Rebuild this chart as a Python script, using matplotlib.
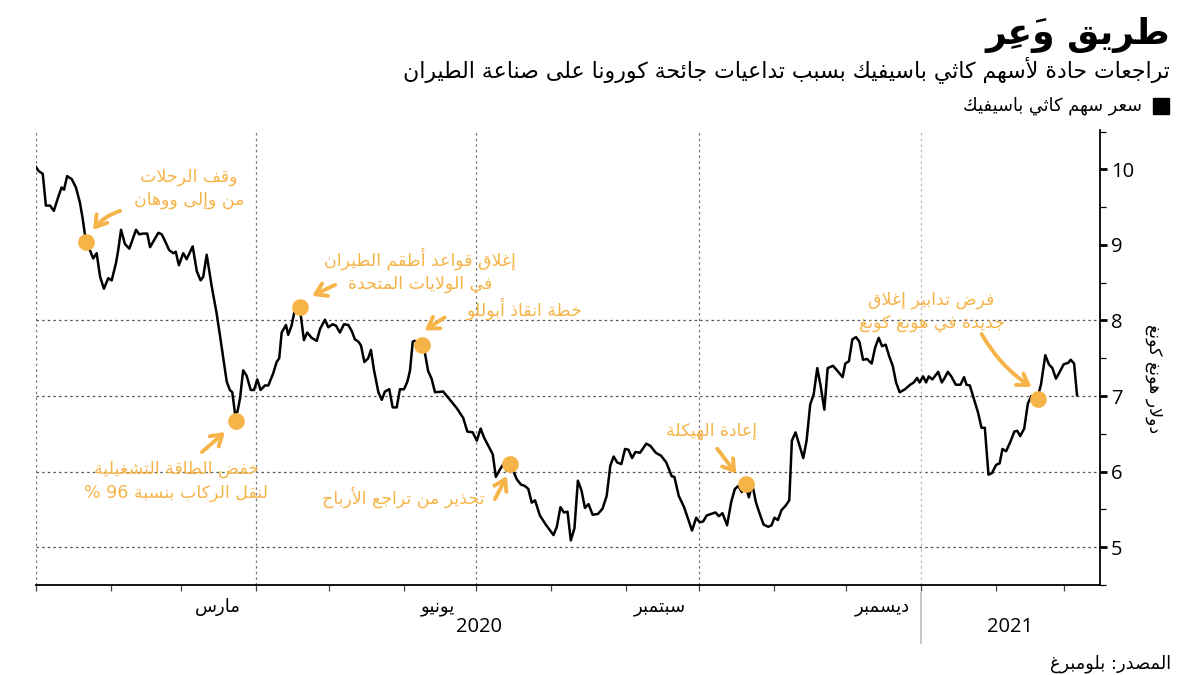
import numpy as np
import matplotlib
matplotlib.use("Agg")
import matplotlib.pyplot as plt
import matplotlib.dates as mdates
from matplotlib.transforms import blended_transform_factory
from matplotlib.lines import Line2D

# ---- data (Cathay Pacific share price, HKD) ----
START = np.datetime64("2020-01-01")
day_offsets = [
    0.0, 1.0, 2.8, 4.1, 5.8, 7.4, 9.2, 10.6, 11.6, 12.9, 14.8, 16.5, 18.2, 19.3, 20.3, 20.7,
    22.3, 23.7, 25.1, 26.5, 28.1, 29.9, 31.3, 33.1, 34.0, 35.2, 36.8, 38.6, 41.4, 42.7, 44.4,
    46.0, 47.2, 48.8, 50.6, 52.0, 53.4, 55.1, 56.8, 57.8, 59.1, 60.9, 62.3, 64.8, 66.5, 68.1,
    69.2, 70.6, 72.7, 74.7, 76.1, 77.5, 78.9, 80.2, 81.2, 82.3, 83.3, 84.4, 85.7, 87.1, 88.8,
    90.2, 91.5, 92.9, 94.7, 96.1, 98.1, 99.5, 100.6, 101.6, 103.4, 104.3, 105.7, 107.1, 107.8,
    109.2, 110.8, 112.2, 114.0, 116.1, 117.5, 119.5, 120.9, 122.7, 124.1, 125.7, 127.4, 129.2,
    130.6, 131.9, 133.3, 134.4, 135.8, 137.4, 138.5, 139.8, 141.6, 143.0, 144.3, 146.1, 147.5,
    149.2, 150.5, 152.2, 153.6, 154.7, 155.8, 156.7, 159.5, 160.9, 162.2, 163.6, 165.0, 168.4,
    171.2, 174.0, 176.7, 178.4, 180.6, 182.3, 183.9, 185.3, 187.1, 188.9, 190.2, 191.9, 193.3,
    194.7, 196.0, 197.4, 198.8, 200.5, 202.2, 203.6, 205.0, 206.4, 208.4, 210.6, 214.0, 215.4,
    216.9, 218.3, 219.8, 221.2, 222.7, 224.1, 225.6, 227.0, 228.5, 230.2, 232.4, 234.3, 236.0,
    237.5, 238.9, 240.4, 242.1, 243.6, 245.0, 246.5, 247.9, 249.8, 252.4, 254.1, 256.3, 258.5,
    260.7, 262.9, 264.0, 265.8, 268.0, 269.4, 271.3, 273.0, 274.5, 275.9, 277.4, 279.2, 281.0,
    282.4, 283.9, 285.8, 287.5, 289.0, 290.4, 291.9, 293.3, 294.8, 296.2, 297.7, 299.1, 300.9,
    302.8, 304.2, 305.4, 306.8, 308.3, 310.0, 311.5, 312.6, 314.1, 315.8, 317.3, 318.7, 320.2,
    321.6, 323.1, 324.5, 326.0, 327.4, 329.6, 331.5, 333.6, 334.7, 336.2, 337.6, 339.1, 340.5,
    342.0, 343.7, 345.6, 347.0, 348.5, 349.9, 351.4, 352.8, 354.3, 355.7, 357.2, 359.4, 361.5,
    363.0, 364.4, 365.4, 366.9, 368.1, 369.2, 370.7, 371.7, 373.1, 374.6, 375.6, 377.1, 378.5,
    380.4, 382.3, 383.8, 384.8, 386.2, 387.7, 389.6, 391.0, 392.4, 393.9, 395.3, 397.1, 398.5,
    399.7, 401.2, 402.9, 404.6, 405.8, 407.0, 408.7, 410.2, 411.6, 414.2, 415.6, 417.4, 418.9,
    420.3, 421.8, 423.2, 425.0, 426.9, 427.9, 429.3, 430.5,
]
price = [
    10.03, 9.98, 9.94, 9.52, 9.52, 9.45, 9.63, 9.76, 9.73, 9.91, 9.87, 9.76, 9.56, 9.35, 9.13, 9.04,
    8.93, 8.82, 8.89, 8.58, 8.42, 8.56, 8.53, 8.76, 8.93, 9.20, 9.01, 8.95, 9.20, 9.14, 9.15,
    9.15, 8.97, 9.06, 9.16, 9.14, 9.05, 8.93, 8.89, 8.91, 8.73, 8.89, 8.81, 8.98, 8.65, 8.53,
    8.58, 8.87, 8.45, 8.10, 7.80, 7.49, 7.19, 7.08, 7.05, 6.77, 6.79, 6.97, 7.34, 7.27, 7.08,
    7.08, 7.22, 7.08, 7.14, 7.14, 7.30, 7.45, 7.50, 7.84, 7.94, 7.81, 7.93, 8.15, 8.19,
    8.15, 7.74, 7.84, 7.77, 7.73, 7.89, 8.01, 7.91, 7.95, 7.93, 7.84, 7.95, 7.94,
    7.86, 7.75, 7.72, 7.67, 7.45, 7.50, 7.61, 7.34, 7.05, 6.95, 7.06, 7.09, 6.85,
    6.85, 7.09, 7.09, 7.19, 7.34, 7.72, 7.73, 7.67, 7.56, 7.33, 7.23, 7.05, 7.06,
    6.95, 6.84, 6.71, 6.53, 6.52, 6.41, 6.57, 6.45, 6.34, 6.23, 5.93, 6.03, 6.10,
    6.01, 6.10, 6.01, 5.90, 5.83, 5.81, 5.77, 5.59, 5.62, 5.42, 5.31, 5.16, 5.27,
    5.53, 5.46, 5.47, 5.09, 5.25, 5.88, 5.75, 5.52, 5.57, 5.43, 5.44, 5.51, 5.68,
    6.08, 6.20, 6.12, 6.10, 6.30, 6.29, 6.18, 6.26, 6.25, 6.37, 6.34, 6.25, 6.21,
    6.12, 5.94, 5.93, 5.68, 5.53, 5.40, 5.22, 5.39, 5.33, 5.34, 5.42, 5.44, 5.46,
    5.41, 5.45, 5.29, 5.60, 5.77, 5.81, 5.73, 5.82, 5.66, 5.84, 5.60, 5.46, 5.30,
    5.27, 5.29, 5.39, 5.36, 5.49, 5.55, 5.62, 6.41, 6.52, 6.34, 6.18, 6.41, 6.89,
    7.02, 7.37, 7.13, 6.82, 7.37, 7.40, 7.33, 7.25, 7.43, 7.46, 7.75, 7.78, 7.72,
    7.48, 7.49, 7.43, 7.64, 7.77, 7.66, 7.68, 7.53, 7.40, 7.18, 7.05, 7.09, 7.15,
    7.18, 7.24, 7.18, 7.26, 7.18, 7.26, 7.22, 7.26, 7.32, 7.18, 7.23, 7.32, 7.26,
    7.15, 7.15, 7.25, 7.15, 7.14, 6.98, 6.78, 6.58, 6.58, 5.96, 5.98, 6.09, 6.11,
    6.30, 6.27, 6.39, 6.53, 6.54, 6.47, 6.57, 6.90, 7.00, 6.98, 7.15, 7.54, 7.42,
    7.37, 7.23, 7.31, 7.42, 7.44, 7.48, 7.43, 7.01,
]

# highlighted events
event_days = [20.7, 82.7, 109.2, 159.5, 196.0, 293.7, 414.2]
event_values = [9.04, 6.67, 8.18, 7.67, 6.10, 5.84, 6.96]
event_labels = [
    "وقف الرحلات\nمن وإلى ووهان",
    "خفض الطاقة التشغيلية\nلنقل الركاب بنسبة 96 %",
    "إغلاق قواعد أطقم الطيران\nفي الولايات المتحدة",
    "خطة انقاذ أبوللو",
    "تحذير من تراجع الأرباح",
    "إعادة الهيكلة",
    "فرض تدابير إغلاق\nجديدة في هونغ كونغ",
]

month_labels = ["مارس", "يونيو", "سبتمبر", "ديسمبر"]
month_label_dates = ["2020-03-16", "2020-06-15", "2020-09-15", "2020-12-16"]
quarter_dates = ["2020-01-01", "2020-04-01", "2020-07-01", "2020-10-01", "2021-01-01"]
year_labels = ["2020", "2021"]

title = "طريق وَعِر"
subtitle = "تراجعات حادة لأسهم كاثي باسيفيك بسبب تداعيات جائحة كورونا على صناعة الطيران"
legend_label = "سعر سهم كاثي باسيفيك"
y_label = "دولار هونغ كونغ"
source = "المصدر: بلومبرغ"


# ---- minimal Arabic shaping (presentation forms) + RTL reordering ----
_DUAL = {'ئ': 0xFE89, 'ب': 0xFE8F, 'ت': 0xFE95, 'ث': 0xFE99, 'ج': 0xFE9D, 'ح': 0xFEA1,
         'خ': 0xFEA5, 'س': 0xFEB1, 'ش': 0xFEB5, 'ص': 0xFEB9, 'ض': 0xFEBD, 'ط': 0xFEC1,
         'ظ': 0xFEC5, 'ع': 0xFEC9, 'غ': 0xFECD, 'ف': 0xFED1, 'ق': 0xFED5, 'ك': 0xFED9,
         'ل': 0xFEDD, 'م': 0xFEE1, 'ن': 0xFEE5, 'ه': 0xFEE9, 'ي': 0xFEF1}
_RIGHT = {'آ': 0xFE81, 'أ': 0xFE83, 'ؤ': 0xFE85, 'إ': 0xFE87, 'ا': 0xFE8D, 'ة': 0xFE93,
          'د': 0xFEA9, 'ذ': 0xFEAB, 'ر': 0xFEAD, 'ز': 0xFEAF, 'و': 0xFEED, 'ى': 0xFEEF}
_LAMALEF = {'آ': 0xFEF5, 'أ': 0xFEF7, 'إ': 0xFEF9, 'ا': 0xFEFB}


def _is_mark(c):
    return '\u064B' <= c <= '\u0652'


def shape_line(s):
    toks = []  # [base, marks, joining type, first form code]
    for c in s:
        if _is_mark(c) and toks:
            toks[-1][1] += c
            continue
        if c in _LAMALEF and toks and toks[-1][0] == 'ل' and toks[-1][1] == '':
            toks[-1] = ['LA', '', 'R', _LAMALEF[c]]
            continue
        if c in _DUAL:
            toks.append([c, '', 'D', _DUAL[c]])
        elif c in _RIGHT:
            toks.append([c, '', 'R', _RIGHT[c]])
        else:
            toks.append([c, '', 'U', None])
    clusters = []
    for i, (b, m, t, code) in enumerate(toks):
        if t == 'U':
            clusters.append((b + m, b.isascii() and b.isalnum()))
            continue
        prev_ok = i > 0 and toks[i - 1][2] == 'D'
        next_ok = t == 'D' and i + 1 < len(toks) and toks[i + 1][2] in ('D', 'R')
        if t == 'R':
            g = code + (1 if prev_ok else 0)
        elif prev_ok and next_ok:
            g = code + 3
        elif prev_ok:
            g = code + 1
        elif next_ok:
            g = code + 2
        else:
            g = code
        # zero-width marks go first so they sit over their base glyph
        clusters.append((m + chr(g), False))
    # reverse for visual order, keeping LTR runs (digits, latin) in order
    clusters = clusters[::-1]
    out, run = [], []
    for txt, ltr in clusters:
        if ltr:
            run.append(txt)
        else:
            out.extend(run[::-1])
            run = []
            out.append(txt)
    out.extend(run[::-1])
    return ''.join(out)


def ar(s):
    return '\n'.join(shape_line(line) for line in s.split('\n'))


# ---- figure ----
plt.rcParams['font.family'] = ['DejaVu Sans']
ORANGE = '#F6B448'
W, H = 1200, 675
fig = plt.figure(figsize=(12, 6.75), dpi=100)
ax = fig.add_axes([36 / W, 1 - 585 / H, (1100 - 36) / W, (585 - 130) / H])

dates = START + (np.array(day_offsets) * 24).astype('timedelta64[h]')
ax.plot(dates, price, color='black', lw=1.8, zorder=3)

ax.set_xlim(START, START + np.timedelta64(440, 'D'))
ax.set_ylim(4.57, 10.52)

# grid lines
for v in [5, 6, 7, 8]:
    ax.axhline(v, color='#555555', lw=0.9, ls=(0, (2, 2.5)), zorder=1)
for i, d in enumerate(quarter_dates):
    ax.axvline(np.datetime64(d), color='#bbbbbb' if i == 4 else '#777777', lw=0.9,
               ls=(0, (2, 2.5)), zorder=1)

# spines
for s in ['top', 'left']:
    ax.spines[s].set_visible(False)
for s in ['right', 'bottom']:
    ax.spines[s].set_linewidth(1.3)
    ax.spines[s].set_color('black')

# y axis on the right
ax.yaxis.tick_right()
ax.set_yticks([5, 6, 7, 8, 9, 10])
ax.set_yticks(np.arange(4.5, 10.6, 0.5), minor=True)
ax.tick_params(axis='y', which='major', length=5, width=2, labelsize=14.5, pad=3)
ax.tick_params(axis='y', which='minor', length=4, width=0.9)
for lab in ax.get_yticklabels():
    lab.set_fontfamily('Open Sans')

# x axis: month ticks + mid-month labels
ax.xaxis.set_minor_locator(mdates.MonthLocator())
ax.set_xticks([np.datetime64(d) for d in month_label_dates])
ax.set_xticklabels([ar(m) for m in month_labels], fontsize=13)
ax.tick_params(axis='x', which='major', length=0, pad=9)
ax.tick_params(axis='x', which='minor', length=4, width=0.9, color='#444444')

tr = blended_transform_factory(ax.transData, ax.transAxes)
year_x = [np.datetime64('2020-07-02'), np.datetime64('2021-02-07')]
for yx, yl in zip(year_x, year_labels):
    ax.text(yx, -0.093, yl, transform=tr, ha='center', va='center', fontsize=14.5,
            family='Open Sans')
ax.add_line(Line2D([np.datetime64('2021-01-01')] * 2, [-0.018, -0.127], transform=tr,
                   color='#bbbbbb', lw=1.2, clip_on=False))

# events: dots, arrows, labels (offsets in pixels from the dot, y up)
text_off = [(103, 53), (-60, -60), (120, 37), (103, 37), (-107, -33), (-35, 53), (-106, 87)]
arrow_tail = [(34, 31), (-34, -31), (35, 22), (23, 28), (-15, -35), (-29, 35), (-56, 65)]
arrow_head = [(7, 12), (-11, -11), (12, 11), (3, 15), (-3, -12), (-10, 10), (-6, 12)]
arrow_rad = [0.15, 0.0, 0.0, 0.0, 0.0, 0.0, 0.12]
for i, (d, v, lab) in enumerate(zip(event_days, event_values, event_labels)):
    x = START + np.timedelta64(int(round(d * 24)), 'h')
    ax.plot([x], [v], 'o', color=ORANGE, ms=11, zorder=5)
    ax.annotate(ar(lab), xy=(x, v), xytext=text_off[i], textcoords='offset pixels',
                ha='center', va='center', color=ORANGE, fontsize=12.5,
                multialignment='center', linespacing=1.35, zorder=6)
    px, py = ax.transData.transform((mdates.date2num(x), v))
    hx, hy = arrow_head[i]
    tx, ty = arrow_tail[i]
    ax.annotate('', xy=(px + hx, py + hy), xycoords='figure pixels',
                xytext=(px + tx, py + ty), textcoords='figure pixels',
                arrowprops=dict(arrowstyle='->,head_length=0.55,head_width=0.35',
                                color=ORANGE, lw=2.8, mutation_scale=14,
                                connectionstyle=f'arc3,rad={arrow_rad[i]}',
                                shrinkA=0, shrinkB=0), zorder=6)

# titles, legend, axis label, source
fig.text(1170 / W, 1 - 35 / H, ar(title), ha='right', va='center', fontsize=26,
         fontweight='bold')
fig.text(1170 / W, 1 - 70 / H, ar(subtitle), ha='right', va='center', fontsize=15.8)
fig.patches.append(plt.Rectangle((1153 / W, 1 - 114 / H), 16 / W, 16 / H,
                                 transform=fig.transFigure, color='black'))
fig.text(1142 / W, 1 - 106 / H, ar(legend_label), ha='right', va='center', fontsize=12.8)
fig.text(1154 / W, 1 - 379 / H, ar(y_label), rotation=270, ha='center', va='center',
         fontsize=12.5)
fig.text(1171 / W, 1 - 664 / H, ar(source), ha='right', va='center', fontsize=12.8)

fig.savefig('out.png', dpi=100, facecolor='white')
